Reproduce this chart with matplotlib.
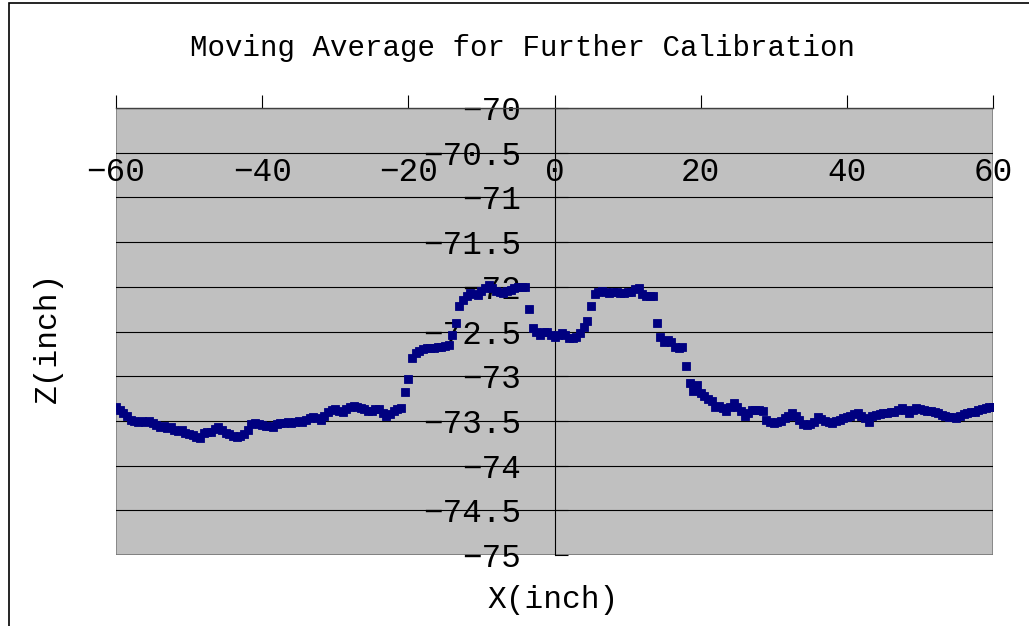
import matplotlib
matplotlib.use("Agg")
import matplotlib.pyplot as plt
from matplotlib.patches import Rectangle
from matplotlib.ticker import FuncFormatter, MultipleLocator
import numpy as np

# x positions: every 0.5 inch from -60 to 60
x_start = -60.0
x_step = 0.5

# moving average Z values (inch)
z_left = [
    -73.35, -73.38, -73.41, -73.45, -73.49, -73.50, -73.51, -73.50, -73.51, -73.50,
    -73.52, -73.55, -73.57, -73.56, -73.58, -73.57, -73.60, -73.61, -73.60, -73.63,
    -73.65, -73.66, -73.68, -73.69, -73.64, -73.62, -73.62, -73.59, -73.57, -73.60,
    -73.63, -73.65, -73.67, -73.68, -73.67, -73.65, -73.60, -73.53, -73.52, -73.53,
    -73.55, -73.56, -73.56, -73.57, -73.54, -73.52, -73.52, -73.51, -73.52, -73.51,
    -73.50, -73.51, -73.49, -73.47, -73.46, -73.47, -73.49, -73.44, -73.40, -73.38,
    -73.37, -73.39, -73.40, -73.37, -73.35, -73.33, -73.34, -73.36, -73.37, -73.39,
    -73.39, -73.37, -73.37, -73.41, -73.45, -73.42, -73.39, -73.37, -73.36, -73.18,
]
z_peak1 = [
    -73.03, -72.80, -72.74, -72.72, -72.70, -72.69, -72.68, -72.68, -72.67, -72.67,
    -72.66, -72.65, -72.54, -72.40, -72.22, -72.15, -72.10, -72.07, -72.08, -72.09,
    -72.05, -72.01, -71.98, -72.01, -72.05, -72.06, -72.07, -72.05, -72.04, -72.01,
    -72.00, -72.00, -72.00, -72.25, -72.46, -72.51, -72.54, -72.51, -72.51, -72.54,
]
z_peak2 = [
    -72.56, -72.54, -72.52, -72.54, -72.57, -72.57, -72.56, -72.52, -72.45, -72.38,
    -72.22, -72.08, -72.06, -72.05, -72.06, -72.07, -72.06, -72.06, -72.07, -72.07,
    -72.06, -72.06, -72.03, -72.01, -72.08, -72.10, -72.10, -72.10, -72.40, -72.56,
    -72.62, -72.60, -72.62, -72.67, -72.68, -72.67, -72.89, -73.08, -73.16, -73.10,
]
z_right = [
    -73.19, -73.22, -73.25, -73.28, -73.34, -73.33, -73.36, -73.39, -73.35, -73.30,
    -73.34, -73.39, -73.45, -73.41, -73.38, -73.38, -73.38, -73.39, -73.49, -73.51,
    -73.52, -73.51, -73.50, -73.47, -73.44, -73.41, -73.44, -73.49, -73.53, -73.55,
    -73.53, -73.51, -73.46, -73.48, -73.50, -73.51, -73.52, -73.50, -73.49, -73.47,
    -73.46, -73.44, -73.42, -73.41, -73.44, -73.47, -73.51, -73.44, -73.43, -73.42,
    -73.41, -73.41, -73.40, -73.40, -73.38, -73.36, -73.38, -73.41, -73.38, -73.36,
    -73.37, -73.38, -73.39, -73.39, -73.40, -73.41, -73.43, -73.45, -73.46, -73.46,
    -73.47, -73.45, -73.42, -73.41, -73.40, -73.40, -73.38, -73.37, -73.36, -73.35,
    -73.34,
]

z_vals = z_left + z_peak1 + z_peak2 + z_right
x_vals = x_start + x_step * np.arange(len(z_vals))

title = "Moving Average for Further Calibration"
x_label = "X(inch)"
y_label = "Z(inch)"

font = "Liberation Mono"

fig = plt.figure(figsize=(10.29, 6.26), dpi=100)
ax = fig.add_axes([116 / 1029, 1 - 555 / 626, 877 / 1029, 447 / 626])
ax.set_facecolor("#c0c0c0")

ax.plot(x_vals, z_vals, ls="none", marker="s", ms=5.5, mew=0.6,
        color="#000080", zorder=3)

ax.set_xlim(-60, 60)
ax.set_ylim(-75, -70)
ax.xaxis.set_major_locator(MultipleLocator(20))
ax.yaxis.set_major_locator(MultipleLocator(0.5))

fmt = FuncFormatter(lambda v, p: ("%g" % v).replace("-", "\u2212"))
ax.xaxis.set_major_formatter(fmt)
ax.yaxis.set_major_formatter(fmt)

ax.grid(axis="y", color="black", lw=0.8, zorder=1)
ax.set_axisbelow(True)

# y axis crosses at x=0, x axis sits on top
ax.spines["left"].set_position(("data", 0))
ax.spines["left"].set_color("black")
ax.spines["left"].set_linewidth(0.8)
ax.spines["top"].set_color("#404040")
ax.spines["top"].set_linewidth(1.0)
for s in ["right", "bottom"]:
    ax.spines[s].set_visible(False)
ax.add_patch(Rectangle((0, 0), 1, 1, transform=ax.transAxes, fill=False,
                       edgecolor="#808080", lw=1.2, zorder=0.5))

ax.xaxis.set_ticks_position("top")
ax.tick_params(axis="x", direction="out", length=9.4, width=0.8,
               labeltop=True, labelbottom=False, pad=-67)
ax.tick_params(axis="y", direction="in", length=9.4, width=0.8, pad=24)

for lab in ax.get_xticklabels() + ax.get_yticklabels():
    lab.set_fontfamily(font)
    lab.set_fontsize(23.5)

fig.text(522 / 1029, 1 - 48 / 626, title, ha="center", va="center",
         fontfamily=font, fontsize=21)
fig.text(553 / 1029, 1 - 600 / 626, x_label, ha="center", va="center",
         fontfamily=font, fontsize=22.5)
fig.text(48 / 1029, 1 - 337 / 626, y_label, ha="center", va="center",
         rotation=90, fontfamily=font, fontsize=22.5)

# chart area border
fig.patches.append(Rectangle((9 / 1029, -0.1), 1.1, 1.1 - 3 / 626,
                             transform=fig.transFigure, fill=False,
                             edgecolor="black", lw=1.2))

fig.savefig("out.png", dpi=100)
